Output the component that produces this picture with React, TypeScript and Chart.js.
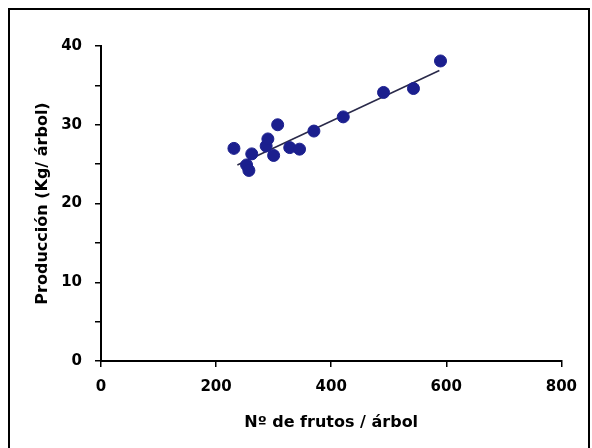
import React, { useEffect, useRef } from "react";
import { Chart, registerables } from "chart.js";

Chart.register(...registerables);

// Data
const frutosX: number[] = [231, 253, 257, 262, 287, 290, 300, 307, 328, 345, 370, 421, 491, 543, 590];
const produccionY: number[] = [27.0, 24.9, 24.2, 26.3, 27.3, 28.2, 26.1, 30.0, 27.1, 26.9, 29.2, 31.0, 34.1, 34.6, 38.1];
const trendX: number[] = [237, 588];
const trendY: number[] = [24.9, 36.9];

const xTitle = "Nº de frutos / árbol";
const yTitle = "Producción (Kg/ árbol)";
const xMin = 0, xMax = 800, xStep = 200;
const yMin = 0, yMax = 40, yStep = 5;

export default function App() {
  const ref = useRef<HTMLCanvasElement | null>(null);

  useEffect(() => {
    if (!ref.current) return;
    const tickFont = { family: "'DejaVu Sans', Arial, sans-serif", size: 15, weight: "bold" as const };
    const titleFont = { family: "'DejaVu Sans', Arial, sans-serif", size: 16, weight: "bold" as const };
    const chart = new Chart(ref.current, {
      type: "scatter",
      data: {
        datasets: [
          {
            type: "line",
            data: trendX.map((x, i) => ({ x, y: trendY[i] })),
            borderColor: "#2a2a4a",
            borderWidth: 1.6,
            pointRadius: 0,
            fill: false,
            order: 2,
          } as any,
          {
            type: "scatter",
            data: frutosX.map((x, i) => ({ x, y: produccionY[i] })),
            backgroundColor: "#1b1f8e",
            borderColor: "#1b1f8e",
            pointRadius: 6,
            order: 1,
          },
        ],
      },
      options: {
        animation: false,
        responsive: false,
        maintainAspectRatio: false,
        layout: { padding: { left: 0, right: 16, top: 36, bottom: 0 } },
        plugins: { legend: { display: false }, tooltip: { enabled: false } },
        scales: {
          x: {
            type: "linear",
            min: xMin,
            max: xMax,
            afterFit: (s: any) => { s.height = 85; },
            ticks: { stepSize: xStep, color: "#000", font: tickFont, padding: 11, maxRotation: 0 },
            grid: { display: true, drawOnChartArea: false, drawTicks: true, tickLength: 6, color: "#000", lineWidth: 1.5 },
            border: { display: true, color: "#000", width: 2 },
            title: { display: true, text: xTitle, color: "#000", font: titleFont, padding: { top: 0, bottom: 14 } },
          },
          y: {
            type: "linear",
            min: yMin,
            max: yMax,
            afterFit: (s: any) => { s.width = 91; },
            ticks: {
              stepSize: yStep,
              color: "#000",
              font: tickFont,
              padding: 13,
              callback: (v: any) => (Number(v) % 10 === 0 ? String(v) : ""),
            },
            grid: { display: true, drawOnChartArea: false, drawTicks: true, tickLength: 6, color: "#000", lineWidth: 1.5 },
            border: { display: true, color: "#000", width: 2 },
            title: { display: true, text: yTitle, color: "#000", font: titleFont, padding: { top: 23, bottom: 0 } },
          },
        },
      },
    });
    return () => chart.destroy();
  }, []);

  return (
    <div
      style={{
        position: "fixed",
        left: 8,
        top: 8,
        width: 582,
        height: 452,
        border: "2px solid #000",
        boxSizing: "border-box",
        background: "#fff",
      }}
    >
      <canvas ref={ref} width={578} height={436} style={{ display: "block", width: 578, height: 436 }} />
    </div>
  );
}
